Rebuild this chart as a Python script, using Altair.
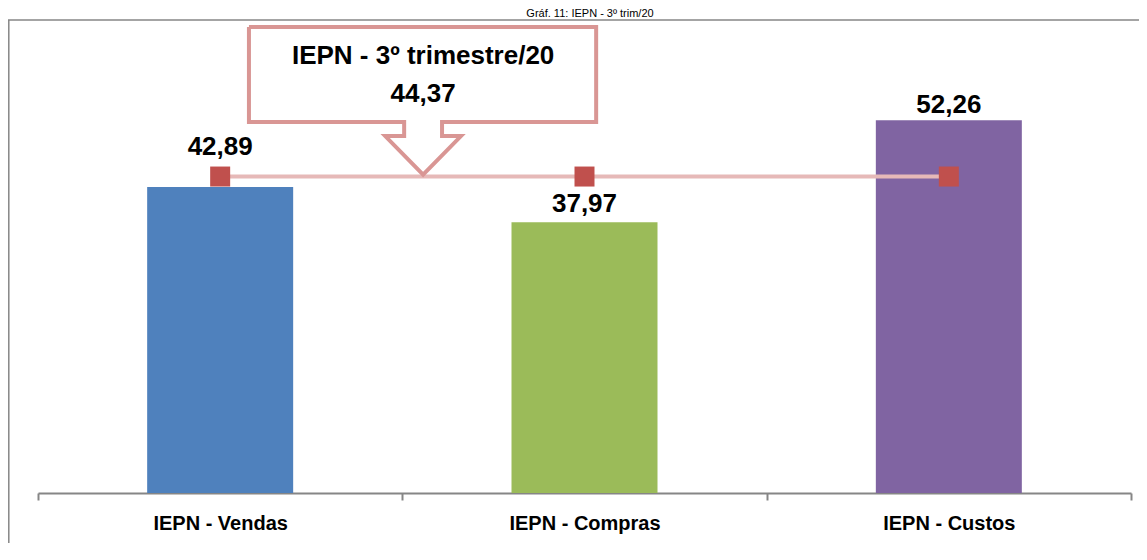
import altair as alt
import pandas as pd

# ---------------- data ----------------
categories = ["IEPN - Vendas", "IEPN - Compras", "IEPN - Custos"]
values = [42.89, 37.97, 52.26]
average = 44.37
bar_colors = ["#4F81BD", "#9BBB59", "#8064A2"]
chart_title = "Gráf. 11: IEPN - 3º trim/20"
callout_title = "IEPN - 3º trimestre/20"


def fmt(v):
    return f"{v:.2f}".replace(".", ",")


df = pd.DataFrame({
    "cat": categories,
    "idx": list(range(len(categories))),
    "value": values,
    "avg": [average] * len(categories),
    "label": [fmt(v) for v in values],
})

# ---------------- style ----------------
FONT = "Liberation Sans Narrow, Arial Narrow, Liberation Sans, Arial, sans-serif"
W, H = 1093, 485
PAD_L, PAD_R, PAD_B = 30, 8, 50
x_scale = alt.Scale(domain=[-0.5, 2.5], nice=False, zero=False, padding=0)
y_scale = alt.Scale(domain=[0, 68], nice=False, padding=0)
label_dy = {"IEPN - Vendas": -40, "IEPN - Compras": -18, "IEPN - Custos": -15}

cat_expr = "[" + ",".join(f"'{c}'" for c in categories) + "]"
x_axis = alt.Axis(
    values=[-0.5, 0, 0.5, 1, 1.5, 2, 2.5],
    labelExpr=f"datum.value % 1 === 0 ? {cat_expr}[datum.value] : ''",
    tickOpacity={"condition": {"test": "datum.value % 1 === 0", "value": 0}, "value": 1},
    title=None, grid=False, labelOverlap=False, labelFlush=False,
    domainColor="#868686", domainWidth=2, tickColor="#868686", tickWidth=2, tickSize=7,
    labelFont=FONT, labelFontSize=20, labelFontWeight="bold", labelColor="black",
    labelPadding=13,
)

base = alt.Chart(df)

bars = base.mark_bar(size=146).encode(
    x=alt.X("idx:Q", scale=x_scale, axis=x_axis),
    y=alt.Y("value:Q", scale=y_scale, axis=None),
    color=alt.Color("cat:N", scale=alt.Scale(domain=categories, range=bar_colors), legend=None),
)

avg_line = base.mark_line(color="#E6B9B8", strokeWidth=4).encode(
    x=alt.X("idx:Q", scale=x_scale),
    y=alt.Y("avg:Q", scale=y_scale),
)

avg_pts = base.mark_point(shape="square", filled=True, size=400, color="#C0504D", opacity=1).encode(
    x=alt.X("idx:Q", scale=x_scale),
    y=alt.Y("avg:Q", scale=y_scale),
)

value_labels = [
    base.transform_filter(alt.datum.cat == c).mark_text(
        font=FONT, fontSize=26, fontWeight="bold", color="black", baseline="middle", dy=dy
    ).encode(
        x=alt.X("idx:Q", scale=x_scale),
        y=alt.Y("value:Q", scale=y_scale),
        text="label:N",
    )
    for c, dy in label_dy.items()
]

# callout (in data units, pointing at the average line between first two categories)
tip_x = 0.557
box_l, box_r = tip_x - 0.478, tip_x + 0.475
box_t, box_b = 65.34, 52.02
stem_h, head_h = 0.052, 0.104
head_t = 50.05
tip_y = average + 0.25
poly = [
    (box_l, box_t), (box_r, box_t), (box_r, box_b), (tip_x + stem_h, box_b),
    (tip_x + stem_h, head_t), (tip_x + head_h, head_t), (tip_x, tip_y),
    (tip_x - head_h, head_t), (tip_x - stem_h, head_t), (tip_x - stem_h, box_b),
    (box_l, box_b), (box_l, box_t),
]
poly_df = pd.DataFrame({"x": [p[0] for p in poly], "y": [p[1] for p in poly], "o": list(range(len(poly)))})
callout = alt.Chart(poly_df).mark_line(
    color="#D99694", strokeWidth=4, strokeJoin="miter"
).encode(
    x=alt.X("x:Q", scale=x_scale),
    y=alt.Y("y:Q", scale=y_scale),
    order="o:Q",
)
callout_txt_df = pd.DataFrame({"x": [tip_x, tip_x], "y": [61.3, 56.0], "t": [callout_title, fmt(average)]})
callout_text = alt.Chart(callout_txt_df).mark_text(
    font=FONT, fontSize=26, fontWeight="bold", color="black", baseline="middle"
).encode(
    x=alt.X("x:Q", scale=x_scale),
    y=alt.Y("y:Q", scale=y_scale),
    text="t:N",
)

one = alt.Data(values=[{}])
title = alt.Chart(one).mark_text(
    font="Liberation Sans, Arial, sans-serif", fontSize=11, color="black", baseline="top"
).encode(x=alt.value(552), y=alt.value(0), text=alt.value(chart_title))

frame_top = alt.Chart(one).mark_rule(color="#868686", strokeWidth=1.5).encode(
    x=alt.value(-PAD_L), x2=alt.value(W + PAD_R), y=alt.value(12)
)
frame_left = alt.Chart(one).mark_rule(color="#868686", strokeWidth=1.5).encode(
    x=alt.value(-PAD_L + 0.8), y=alt.value(12), y2=alt.value(H + PAD_B)
)

chart = alt.layer(
    bars, avg_line, avg_pts, *value_labels, callout, callout_text, title, frame_top, frame_left
).properties(
    width=W, height=H,
    autosize=alt.AutoSizeParams(type="none"),
    padding={"left": PAD_L, "top": 0, "right": PAD_R, "bottom": PAD_B},
).configure_view(stroke=None)

chart.save("out.html", embed_options={"renderer": "svg", "actions": False})
